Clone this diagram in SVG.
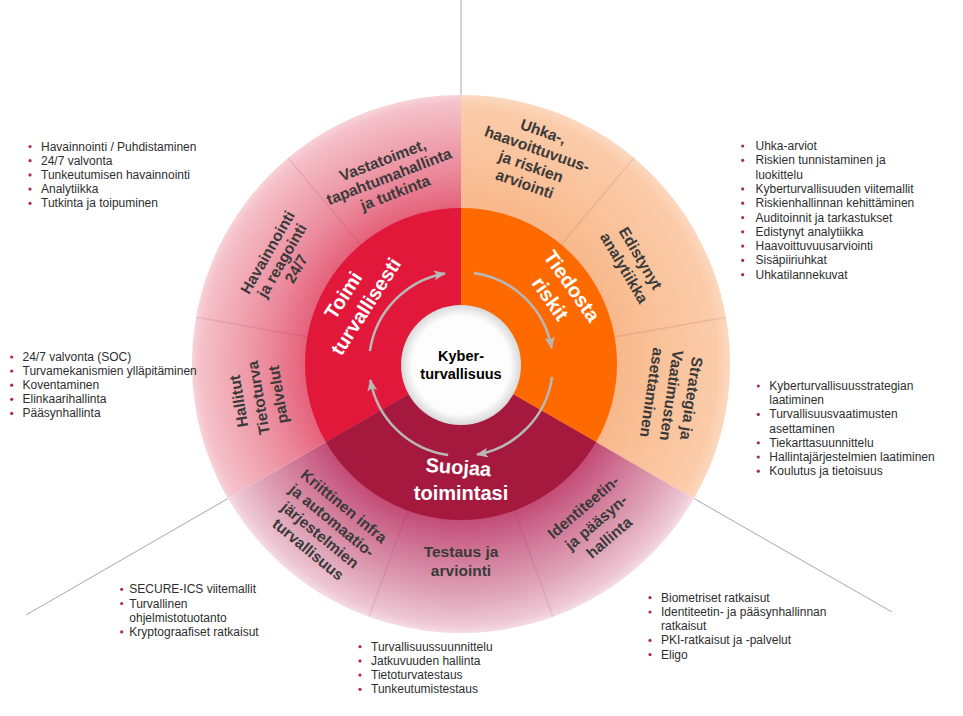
<svg xmlns="http://www.w3.org/2000/svg" width="963" height="716" viewBox="0 0 963 716">
<style>
.lbl{font-family:"Liberation Sans",Arial,sans-serif;font-weight:bold;font-size:15.5px;fill:#3a3a3a;text-anchor:middle}
.in{font-family:"Liberation Sans",Arial,sans-serif;font-weight:bold;font-size:20px;fill:#ffffff;text-anchor:middle}
.ctr{font-family:"Liberation Sans",Arial,sans-serif;font-weight:bold;font-size:14.5px;fill:#000;text-anchor:middle}
.li{font-family:"Liberation Sans",Arial,sans-serif;font-size:12px;fill:#2e2e2e}
.dot{fill:#B0284F}
.div{stroke:#7a1030;stroke-opacity:0.1;stroke-width:1.5;fill:none}
.gl{stroke:#A8A8A8;stroke-width:1;fill:none}
.arc{stroke:#B8B8B8;stroke-width:2.5;fill:none;marker-end:url(#ah)}
</style>
<defs>
<radialGradient id="gPink" gradientUnits="userSpaceOnUse" cx="461" cy="364" r="269">
<stop offset="0.58" stop-color="#E5627C"/><stop offset="0.72" stop-color="#EB8A9C"/><stop offset="0.86" stop-color="#F0A9B5"/><stop offset="0.97" stop-color="#F5C1CA"/><stop offset="1" stop-color="#F8D3D9"/>
</radialGradient>
<radialGradient id="gPeach" gradientUnits="userSpaceOnUse" cx="461" cy="364" r="269">
<stop offset="0.58" stop-color="#F8B88B"/><stop offset="0.75" stop-color="#F9C29A"/><stop offset="0.95" stop-color="#FBCBA9"/><stop offset="1" stop-color="#FCD8BF"/>
</radialGradient>
<radialGradient id="gMauve" gradientUnits="userSpaceOnUse" cx="461" cy="364" r="269">
<stop offset="0.58" stop-color="#C34C76"/><stop offset="0.7" stop-color="#CF7494"/><stop offset="0.85" stop-color="#DEA0B5"/><stop offset="0.97" stop-color="#EEC8D5"/><stop offset="1" stop-color="#F5DCE4"/>
</radialGradient>
<radialGradient id="gWhite" cx="0.5" cy="0.5" r="0.5">
<stop offset="0" stop-color="#ffffff"/><stop offset="0.82" stop-color="#fcfcfc"/><stop offset="1" stop-color="#d9d9d9"/>
</radialGradient>
<marker id="ah" markerUnits="userSpaceOnUse" markerWidth="13" markerHeight="11" refX="11" refY="5.5" orient="auto">
<path d="M0,0.5 L12,5.5 L0,10.5 L3,5.5 Z" fill="#B8B8B8"/>
</marker>
</defs>

<g id="guide-lines">
<line class="gl" x1="461" y1="0" x2="461" y2="95"/>
<line class="gl" x1="228" y1="498.5" x2="26" y2="615"/>
<line class="gl" x1="694" y1="498.5" x2="892" y2="612"/>
</g>

<g id="outer-ring">
<path d="M461 364 L461 95 A269 269 0 0 0 228.04 498.5 Z" fill="url(#gPink)"/>
<path d="M461 364 L693.96 498.5 A269 269 0 0 0 461 95 Z" fill="url(#gPeach)"/>
<path d="M461 364 L228.04 498.5 A269 269 0 0 0 693.96 498.5 Z" fill="url(#gMauve)"/>
<line class="div" x1="360.7" y1="244.5" x2="288.1" y2="157.9"/>
<line class="div" x1="307.4" y1="336.9" x2="196.1" y2="317.3"/>
<line class="div" x1="561.3" y1="244.5" x2="633.9" y2="157.9"/>
<line class="div" x1="614.6" y1="336.9" x2="725.9" y2="317.3"/>
<line class="div" x1="407.6" y1="510.6" x2="369.0" y2="616.8"/>
<line class="div" x1="514.4" y1="510.6" x2="553.0" y2="616.8"/>
</g>

<g id="node-vastatoimet" transform="translate(389,176.3) rotate(-21)">
<text class="lbl" y="-12">Vastatoimet,</text><text class="lbl" y="5.5">tapahtumahallinta</text><text class="lbl" y="23">ja tutkinta</text>
</g>
<g id="node-havainnointi" transform="translate(281.7,260.5) rotate(-60)">
<text class="lbl" y="-11">Havainnointi</text><text class="lbl" y="5.5">ja reagointi</text><text class="lbl" y="22">24/7</text>
</g>
<g id="node-hallitut" transform="translate(258.3,397.9) rotate(-99.5)">
<text class="lbl" y="-14.5">Hallitut</text><text class="lbl" y="5.5">Tietoturva</text><text class="lbl" y="25.5">palvelut</text>
</g>
<g id="node-uhka" transform="translate(534.1,157.6) rotate(19.5)">
<text class="lbl" y="-22.25">Uhka-,</text><text class="lbl" y="-3.75">haavoittuvuus-</text><text class="lbl" y="14.75">ja riskien</text><text class="lbl" y="33.25">arviointi</text>
</g>
<g id="node-edistynyt" transform="translate(632.5,263) rotate(59.5)">
<text class="lbl" y="-4">Edistynyt</text><text class="lbl" y="15">analytiikka</text>
</g>
<g id="node-strategia" transform="translate(671.7,395.5) rotate(98.5)">
<text class="lbl" y="-14.5">Strategia ja</text><text class="lbl" y="5.5">Vaatimusten</text><text class="lbl" y="25.5">asettaminen</text>
</g>
<g id="node-kriittinen" transform="translate(326.1,527.6) rotate(39.5)">
<text class="lbl" y="-22.55">Kriittinen infra</text><text class="lbl" y="-3.85">ja automaatio-</text><text class="lbl" y="14.85">järjestelmien</text><text class="lbl" y="33.55">turvallisuus</text>
</g>
<g id="node-testaus" transform="translate(461,561)">
<text class="lbl" y="-3.75">Testaus ja</text><text class="lbl" y="14.75">arviointi</text>
</g>
<g id="node-identiteetin" transform="translate(596.1,522.2) rotate(-40.5)">
<text class="lbl" y="-14.5">Identiteetin-</text><text class="lbl" y="5.5">ja pääsyn-</text><text class="lbl" y="25.5">hallinta</text>
</g>

<g id="node-toimi">
<path d="M461 364 L461 208 A156 156 0 0 0 325.9 442 Z" fill="#E2183B"/>
<g transform="translate(349,299) rotate(-57)"><text class="in" y="0">Toimi</text><text class="in" x="3" y="25">turvallisesti</text></g>
</g>
<g id="node-tiedosta">
<path d="M461 364 L596.1 442 A156 156 0 0 0 461 208 Z" fill="#FF6A00"/>
<g transform="translate(566.3,290) rotate(55)"><text class="in" y="0">Tiedosta</text><text class="in" x="-2" y="25">riskit</text></g>
</g>
<g id="node-suojaa">
<path d="M461 364 L325.9 442 A156 156 0 0 0 596.1 442 Z" fill="#A6193F"/>
<text class="in" transform="translate(458,474) rotate(4)">Suojaa</text>
<text class="in" x="461" y="499.5">toimintasi</text>
</g>

<g id="connectors">
<path class="arc" d="M369.9 351.2 A92 92 0 0 1 445 273.4"/>
<path class="arc" d="M473.8 272.9 A92 92 0 0 1 551.6 348"/>
<path class="arc" d="M552.1 376.8 A92 92 0 0 1 477 454.6"/>
<path class="arc" d="M448.2 455.1 A92 92 0 0 1 370.4 380"/>
</g>

<g id="node-center">
<circle cx="461" cy="365" r="60" fill="url(#gWhite)"/>
<text class="ctr" x="461" y="360.5">Kyber-</text>
<text class="ctr" x="461" y="378.5">turvallisuus</text>
</g>

<g id="list-toimi-top">
<circle class="dot" cx="30" cy="146.5" r="1.6"/><text class="li" x="41" y="150.5">Havainnointi / Puhdistaminen</text>
<circle class="dot" cx="30" cy="160.7" r="1.6"/><text class="li" x="41" y="164.7">24/7 valvonta</text>
<circle class="dot" cx="30" cy="174.9" r="1.6"/><text class="li" x="41" y="178.9">Tunkeutumisen havainnointi</text>
<circle class="dot" cx="30" cy="189.1" r="1.6"/><text class="li" x="41" y="193.1">Analytiikka</text>
<circle class="dot" cx="30" cy="203.3" r="1.6"/><text class="li" x="41" y="207.3">Tutkinta ja toipuminen</text>
</g>
<g id="list-toimi-left">
<circle class="dot" cx="11.7" cy="357" r="1.6"/><text class="li" x="22.5" y="361">24/7 valvonta (SOC)</text>
<circle class="dot" cx="11.7" cy="371.1" r="1.6"/><text class="li" x="22.5" y="375.1">Turvamekanismien ylläpitäminen</text>
<circle class="dot" cx="11.7" cy="385.2" r="1.6"/><text class="li" x="22.5" y="389.2">Koventaminen</text>
<circle class="dot" cx="11.7" cy="399.3" r="1.6"/><text class="li" x="22.5" y="403.3">Elinkaarihallinta</text>
<circle class="dot" cx="11.7" cy="413.4" r="1.6"/><text class="li" x="22.5" y="417.4">Pääsynhallinta</text>
</g>
<g id="list-tiedosta-top">
<circle class="dot" cx="742.7" cy="146" r="1.6"/><text class="li" x="755.5" y="150">Uhka-arviot</text>
<circle class="dot" cx="742.7" cy="160.3" r="1.6"/><text class="li" x="755.5" y="164.3">Riskien tunnistaminen ja</text>
<text class="li" x="755.5" y="178.6">luokittelu</text>
<circle class="dot" cx="742.7" cy="188.9" r="1.6"/><text class="li" x="755.5" y="192.9">Kyberturvallisuuden viitemallit</text>
<circle class="dot" cx="742.7" cy="203.2" r="1.6"/><text class="li" x="755.5" y="207.2">Riskienhallinnan kehittäminen</text>
<circle class="dot" cx="742.7" cy="217.5" r="1.6"/><text class="li" x="755.5" y="221.5">Auditoinnit ja tarkastukset</text>
<circle class="dot" cx="742.7" cy="231.8" r="1.6"/><text class="li" x="755.5" y="235.8">Edistynyt analytiikka</text>
<circle class="dot" cx="742.7" cy="246.1" r="1.6"/><text class="li" x="755.5" y="250.1">Haavoittuvuusarviointi</text>
<circle class="dot" cx="742.7" cy="260.4" r="1.6"/><text class="li" x="755.5" y="264.4">Sisäpiiriuhkat</text>
<circle class="dot" cx="742.7" cy="274.7" r="1.6"/><text class="li" x="755.5" y="278.7">Uhkatilannekuvat</text>
</g>
<g id="list-tiedosta-right">
<circle class="dot" cx="758.3" cy="386" r="1.6"/><text class="li" x="769.3" y="390">Kyberturvallisuusstrategian</text>
<text class="li" x="769.3" y="404.2">laatiminen</text>
<circle class="dot" cx="758.3" cy="414.4" r="1.6"/><text class="li" x="769.3" y="418.4">Turvallisuusvaatimusten</text>
<text class="li" x="769.3" y="432.6">asettaminen</text>
<circle class="dot" cx="758.3" cy="442.8" r="1.6"/><text class="li" x="769.3" y="446.8">Tiekarttasuunnittelu</text>
<circle class="dot" cx="758.3" cy="457" r="1.6"/><text class="li" x="769.3" y="461">Hallintajärjestelmien laatiminen</text>
<circle class="dot" cx="758.3" cy="471.2" r="1.6"/><text class="li" x="769.3" y="475.2">Koulutus ja tietoisuus</text>
</g>
<g id="list-suojaa-left">
<circle class="dot" cx="121.7" cy="589.3" r="1.6"/><text class="li" x="129.3" y="593.3">SECURE-ICS viitemallit</text>
<circle class="dot" cx="121.7" cy="603.5" r="1.6"/><text class="li" x="129.3" y="607.5">Turvallinen</text>
<text class="li" x="129.3" y="621.7">ohjelmistotuotanto</text>
<circle class="dot" cx="121.7" cy="631.9" r="1.6"/><text class="li" x="129.3" y="635.9">Kryptograafiset ratkaisut</text>
</g>
<g id="list-suojaa-mid">
<circle class="dot" cx="360" cy="646.7" r="1.6"/><text class="li" x="371" y="650.7">Turvallisuussuunnittelu</text>
<circle class="dot" cx="360" cy="660.9" r="1.6"/><text class="li" x="371" y="664.9">Jatkuvuuden hallinta</text>
<circle class="dot" cx="360" cy="675.1" r="1.6"/><text class="li" x="371" y="679.1">Tietoturvatestaus</text>
<circle class="dot" cx="360" cy="689.3" r="1.6"/><text class="li" x="371" y="693.3">Tunkeutumistestaus</text>
</g>
<g id="list-suojaa-right">
<circle class="dot" cx="650" cy="597.7" r="1.6"/><text class="li" x="661" y="601.7">Biometriset ratkaisut</text>
<circle class="dot" cx="650" cy="612" r="1.6"/><text class="li" x="661" y="616">Identiteetin- ja pääsynhallinnan</text>
<text class="li" x="661" y="630.2">ratkaisut</text>
<circle class="dot" cx="650" cy="640.4" r="1.6"/><text class="li" x="661" y="644.4">PKI-ratkaisut ja -palvelut</text>
<circle class="dot" cx="650" cy="654.6" r="1.6"/><text class="li" x="661" y="658.6">Eligo</text>
</g>
</svg>
